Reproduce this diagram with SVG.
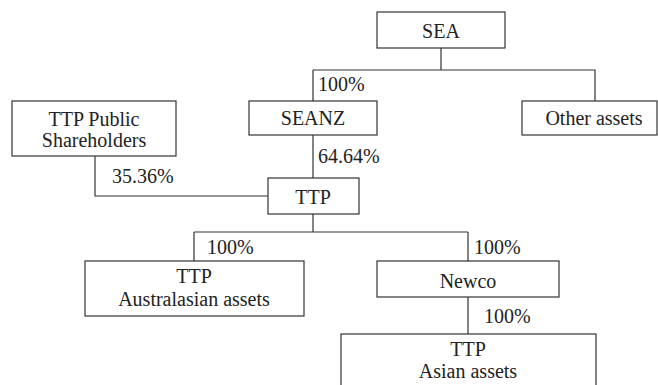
<svg xmlns="http://www.w3.org/2000/svg" width="658" height="385" viewBox="0 0 658 385">
<style>
.box{fill:#fff;stroke:#333;stroke-width:1.2}
.ln{fill:none;stroke:#333;stroke-width:1.2}
.t{font-family:'Liberation Serif','Times New Roman',serif;font-size:20px;fill:#222}
.c{text-anchor:middle}
</style>
<rect width="658" height="385" fill="#fff"/>
<g id="connectors">
<path class="ln" d="M441 48V70M313 70H595V101M313 70V101M313 135V178M95 156V196H268M313 214V232M194 232H468M194 232V261M468 232V261M468 297V334"/>
</g>
<g id="sea"><rect class="box" x="377" y="12" width="128" height="36"/><text class="t c" x="441" y="38">SEA</text></g>
<g id="seanz"><rect class="box" x="249" y="101" width="128" height="34"/><text class="t c" x="313" y="125">SEANZ</text></g>
<g id="other"><rect class="box" x="522" y="101" width="135" height="34"/><text class="t c" x="594" y="125">Other assets</text></g>
<g id="public"><rect class="box" x="12" y="101" width="164" height="55"/><text class="t c" x="94" y="126">TTP Public</text><text class="t c" x="94" y="147">Shareholders</text></g>
<g id="ttp"><rect class="box" x="268" y="178" width="91" height="36"/><text class="t c" x="313" y="204">TTP</text></g>
<g id="aus"><rect class="box" x="85" y="261" width="219" height="55"/><text class="t c" x="194" y="283">TTP</text><text class="t c" x="194" y="306">Australasian assets</text></g>
<g id="newco"><rect class="box" x="377" y="261" width="182" height="36"/><text class="t c" x="468" y="288">Newco</text></g>
<g id="asian"><rect class="box" x="341" y="334" width="255" height="60"/><text class="t c" x="468" y="356">TTP</text><text class="t c" x="468" y="378">Asian assets</text></g>
<g id="labels">
<text class="t" x="318" y="91">100%</text>
<text class="t" x="318" y="163">64.64%</text>
<text class="t" x="112" y="183">35.36%</text>
<text class="t" x="207" y="254">100%</text>
<text class="t" x="474" y="254">100%</text>
<text class="t" x="484" y="323">100%</text>
</g>
</svg>
